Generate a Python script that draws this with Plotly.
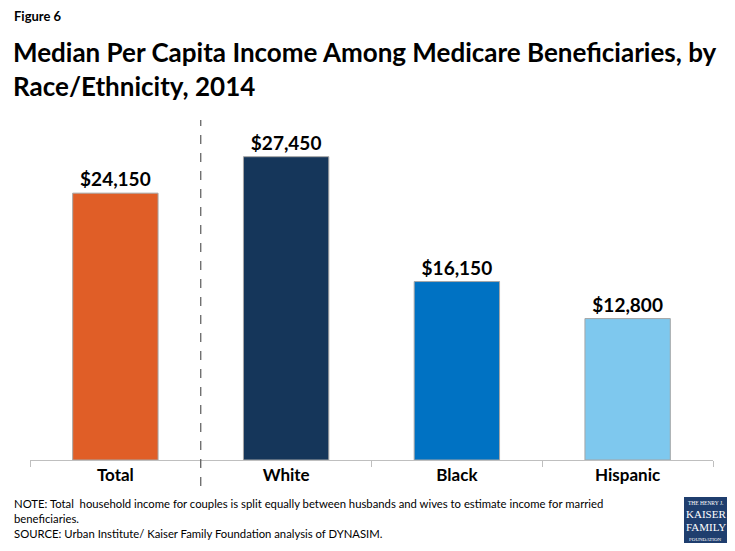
import plotly.graph_objects as go

groups = ["Total", "White", "Black", "Hispanic"]
income = [24150, 27450, 16150, 12800]
bar_colors = ["#E05E27", "#15365A", "#0072C3", "#7EC8EE"]
labels = ["<b>$24,150</b>", "<b>$27,450</b>", "<b>$16,150</b>", "<b>$12,800</b>"]
tick_labels = ["<b>Total</b>", "<b>White</b>", "<b>Black</b>", "<b>Hispanic</b>"]

font_main = "Lato, 'Open Sans', Arial, sans-serif"

# the page body has an 8px margin, so the figure sits at (8, 8) on the page
OFF = 8
FIG_W = 735 - 2 * OFF
FIG_H = 551 - 2 * OFF
PLOT_L, PLOT_R, PLOT_T, PLOT_B = 30, 713, 120, 460  # page coordinates

fig = go.Figure()
fig.add_trace(go.Bar(
    x=groups,
    y=income,
    marker=dict(color=bar_colors, line=dict(color="#A6A6A6", width=1)),
    text=labels,
    textposition="outside",
    textfont=dict(family=font_main, size=19, color="#000000"),
    cliponaxis=False,
    width=0.5,
    hoverinfo="skip",
))

W = PLOT_R - PLOT_L
H = PLOT_B - PLOT_T

def px(xp):
    return (xp - PLOT_L) / W

def py(yp):
    return (PLOT_B - yp) / H

# dashed divider between Total and the groups
fig.add_shape(type="line", xref="x", yref="paper", x0=0.5, x1=0.5, y0=py(486), y1=py(120),
              line=dict(color="#595959", width=1.2, dash="dash"))

# logo box
fig.add_shape(type="rect", xref="paper", yref="paper",
              x0=px(684), x1=px(727), y0=py(545), y1=py(497),
              fillcolor="#1F3E6E", line=dict(width=0), layer="above")

fig.update_layout(
    width=FIG_W,
    height=FIG_H,
    margin=dict(l=PLOT_L - OFF, r=FIG_W - (PLOT_R - OFF), t=PLOT_T - OFF, b=FIG_H - (PLOT_B - OFF)),
    paper_bgcolor="white",
    plot_bgcolor="white",
    showlegend=False,
    font=dict(family=font_main, color="#000000"),
    xaxis=dict(
        showline=True, linecolor="#BFBFBF", linewidth=1,
        ticks="outside", tickson="boundaries", ticklen=6, tickcolor="#BFBFBF",
        tickmode="array", tickvals=groups, ticktext=tick_labels,
        tickfont=dict(family=font_main, size=17, color="#000000"),
        showgrid=False,
    ),
    yaxis=dict(visible=False, range=[0, 30770]),
)

def note(text, x, y, size, bold=False, color="#000000", family=font_main, xanchor="left"):
    fig.add_annotation(
        text=f"<b>{text}</b>" if bold else text,
        xref="paper", yref="paper", x=px(x), y=py(y),
        xanchor=xanchor, yanchor="middle", showarrow=False,
        font=dict(family=family, size=size, color=color),
    )

note("Figure 6", 12, 16, 13, bold=True)
note("Median Per Capita Income Among Medicare Beneficiaries, by", 11, 52, 26, bold=True)
note("Race/Ethnicity, 2014", 11, 86, 26, bold=True)

note("NOTE: Total  household income for couples is split equally between husbands and wives to estimate income for married",
     12, 503, 11.3)
note("beneficiaries.", 12, 518, 11.3)
note("SOURCE: Urban Institute/ Kaiser Family Foundation analysis of DYNASIM.", 12, 533, 11.3)

serif = "'Liberation Serif', 'DejaVu Serif', serif"
note("THE HENRY J.", 705.5, 503, 5.5, color="white", family=serif, xanchor="center")
note("KAISER", 705.5, 514, 11, color="white", family=serif, xanchor="center")
note("FAMILY", 705.5, 527, 11, color="white", family=serif, xanchor="center")
note("FOUNDATION", 705.5, 539, 5, color="white", family=serif, xanchor="center")

fig.write_html("out.html")
